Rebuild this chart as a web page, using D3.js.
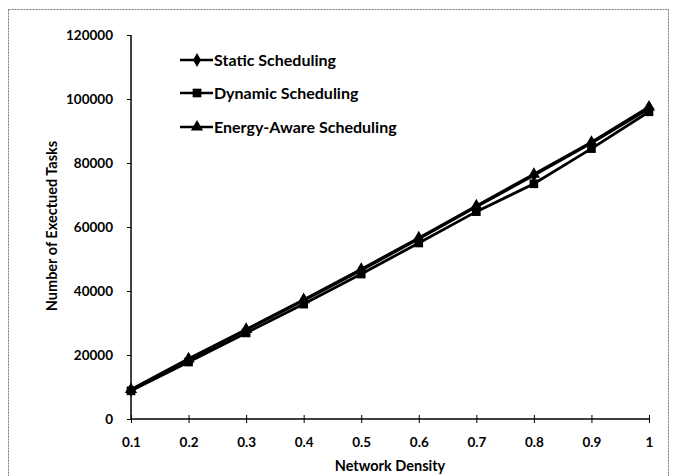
<!DOCTYPE html>
<html><head><meta charset="utf-8">
<script src="https://cdn.jsdelivr.net/npm/d3@7"></script>
<style>body{margin:0;background:#fff}svg{display:block}text{font-family:Lato,"Open Sans",sans-serif;font-weight:bold;fill:#000}</style>
</head><body><svg id="c" width="677" height="476"></svg>
<script>
const densities = [0.1,0.2,0.3,0.4,0.5,0.6,0.7,0.8,0.9,1];
const xTickLabels = ["0.1","0.2","0.3","0.4","0.5","0.6","0.7","0.8","0.9","1"];
const yTicks = [0,20000,40000,60000,80000,100000,120000];
const staticSched = [9000,18500,27800,37000,46500,56300,66300,76200,86200,97000];
const dynamicSched = [8800,17800,26900,35900,45300,55000,64800,73500,84500,96000];
const energySched = [9200,18800,28000,37300,46800,56600,66600,76500,86500,97500];
const seriesNames = ["Static Scheduling","Dynamic Scheduling","Energy-Aware Scheduling"];
const seriesData = [staticSched, dynamicSched, energySched];
const symbols = [d3.symbolDiamond, d3.symbolSquare, d3.symbolTriangle];
const symSizes = [55, 75, 65];

const svg = d3.select("#c");
svg.append("rect").attr("x",8.5).attr("y",9.5).attr("width",660).attr("height",475)
  .attr("fill","none").attr("stroke","#777").attr("stroke-width",1).attr("stroke-dasharray","2,1");

const x = d3.scalePoint().domain(densities).range([131,649]);
const y = d3.scaleLinear().domain([0,120000]).range([419,35]);

const ya = svg.append("g").attr("transform","translate(131,0)")
  .call(d3.axisLeft(y).tickValues(yTicks).tickSize(4).tickPadding(14).tickFormat(d3.format("d")));
ya.select(".domain").attr("stroke","#000").attr("stroke-width",1.5).attr("d","M0,35V419");
ya.selectAll(".tick line").attr("stroke","#000");
ya.selectAll("text").attr("font-size",13.5).style("font-family","Lato,sans-serif").style("font-weight","bold");

const xa = svg.append("g").attr("transform","translate(0,419)")
  .call(d3.axisBottom(x).tickFormat((d,i)=>xTickLabels[i]).tickSize(4).tickPadding(14));
xa.select(".domain").attr("stroke","#000").attr("stroke-width",1.5).attr("d","M131,0H649");
xa.selectAll(".tick line").attr("stroke","#000").attr("y1",-4).attr("y2",4);
xa.selectAll("text").attr("font-size",13.5).style("font-family","Lato,sans-serif").style("font-weight","bold");

svg.append("text").attr("x",390).attr("y",471).attr("text-anchor","middle").attr("font-size",14.5).text("Network Density");
svg.append("text").attr("transform","translate(57,226) rotate(-90)").attr("text-anchor","middle").attr("font-size",14.5).text("Number of Exectued Tasks");

const line = d3.line().x((d,i)=>x(densities[i])).y(d=>y(d));
seriesData.forEach((s,k)=>{
  svg.append("path").datum(s).attr("d",line).attr("fill","none").attr("stroke","#000").attr("stroke-width",2.8);
});
seriesData.forEach((s,k)=>{
  svg.append("g").selectAll("path").data(s).join("path")
    .attr("transform",(d,i)=>`translate(${x(densities[i])},${y(d)})`)
    .attr("d",d3.symbol(symbols[k],symSizes[k])).attr("fill","#000");
});

const legY = [60,93,127];
seriesNames.forEach((n,k)=>{
  const g = svg.append("g").attr("transform",`translate(0,${legY[k]})`);
  g.append("line").attr("x1",180).attr("x2",213).attr("y1",0).attr("y2",0).attr("stroke","#000").attr("stroke-width",2.5);
  g.append("path").attr("transform","translate(197,0)").attr("d",d3.symbol(symbols[k],symSizes[k])).attr("fill","#000");
  g.append("text").attr("x",214).attr("y",5.5).attr("font-size",16).text(n);
});
</script></body></html>
